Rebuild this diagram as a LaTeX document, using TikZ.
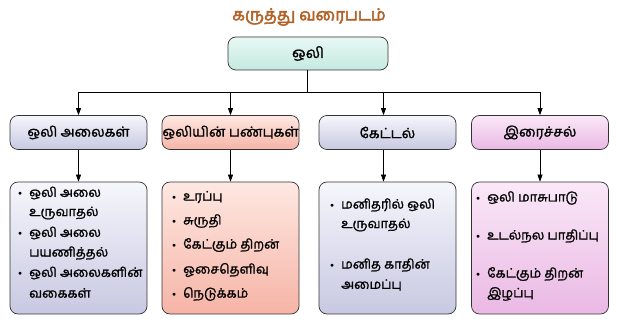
\documentclass[tikz,border=0pt]{standalone}
\usepackage{fontspec}
\newfontfamily\tam[Script=Tamil,FakeBold=1.3]{Hind Madurai}
\newfontfamily\tamt[Script=Tamil,FakeBold=3]{Hind Madurai}
\usetikzlibrary{arrows.meta}
\definecolor{titlebrown}{RGB}{178,98,38}
\definecolor{tealtop}{RGB}{232,248,244}
\definecolor{tealbot}{RGB}{196,234,224}
\definecolor{lavtop}{RGB}{246,246,252}
\definecolor{lavbot}{RGB}{200,200,226}
\definecolor{saltop}{RGB}{254,232,226}
\definecolor{salbot}{RGB}{246,180,166}
\definecolor{pintop}{RGB}{250,232,248}
\definecolor{pinbot}{RGB}{234,184,228}
\newcommand{\bul}{\makebox[11pt][l]{\raisebox{1pt}{\scriptsize$\bullet$}}}
\newcommand{\ind}{\hspace*{11pt}}
\begin{document}
\begin{tikzpicture}[x=1pt,y=-1pt,
  box/.style={draw=black!80, line width=0.7pt, rounded corners=8pt, inner sep=0pt},
  lvtwo/.style={box, minimum width=137pt, minimum height=34pt, font=\tam\fontsize{14}{17}\selectfont},
  lvthree/.style={box, minimum width=137pt, minimum height=132pt},
  lav/.style={top color=lavtop, bottom color=lavbot},
  sal/.style={top color=saltop, bottom color=salbot},
  pin/.style={top color=pintop, bottom color=pinbot},
  item/.style={anchor=west, inner sep=0pt, font=\tam\fontsize{13}{15}\selectfont},
  conn/.style={draw=black, line width=0.7pt},
  arr/.style={conn, -{Triangle[length=7pt,width=5pt]}}
]
\useasboundingbox (0,0) rectangle (625,326);

\node[font=\tamt\fontsize{16.5}{19}\selectfont, text=titlebrown] (title) at (309,17) {கருத்து வரைபடம்};

\node[box, top color=tealtop, bottom color=tealbot, minimum width=160pt, minimum height=33pt, font=\tam\fontsize{15}{18}\selectfont] (top) at (308,53.5) {ஒலி};

\node[lvtwo, lav] (a1) at (78.5,132.5) {ஒலி அலைகள்};
\node[lvtwo, sal] (a2) at (230.5,132.5) {ஒலியின் பண்புகள்};
\node[lvtwo, lav] (a3) at (387.5,132.5) {கேட்டல்};
\node[lvtwo, pin] (a4) at (540,132.5) {இரைச்சல்};

\node[lvthree, lav] (b1) at (78.5,248) {};
\node[lvthree, sal] (b2) at (230.5,248) {};
\node[lvthree, lav] (b3) at (387.5,248) {};
\node[lvthree, pin] (b4) at (540,248) {};

\coordinate (hub) at (307,92);
\draw[conn] (top.south -| hub) -- (hub);
\draw[arr] (hub) -| (a1.north);
\draw[arr] (hub) -| (a2.north);
\draw[arr] ([xshift=-4pt]a3.north |- hub) -- ([xshift=-4pt]a3.north);
\draw[conn] (a1.north |- hub) -- (a4.north |- hub);
\draw[arr] (a4.north |- hub) -- (a4.north);

\draw[arr] (a1.south) -- (b1.north);
\draw[arr] (a2.south) -- (b2.north);
\draw[arr] ([xshift=-4pt]a3.south) -- ([xshift=-4pt]b3.north);
\draw[arr] (a4.south) -- (b4.north);

% box 1 items
\node[item] (i11) at (18,193) {\bul ஒலி அலை};
\node[item] (i12) at (18,213) {\ind உருவாதல்};
\node[item] (i13) at (18,233) {\bul ஒலி அலை};
\node[item] (i14) at (18,253) {\ind பயணித்தல்};
\node[item] (i15) at (18,273) {\bul ஒலி அலைகளின்};
\node[item] (i16) at (18,293) {\ind வகைகள்};

% box 2 items
\node[item] (i21) at (172,197) {\bul உரப்பு};
\node[item] (i22) at (172,221) {\bul சுருதி};
\node[item] (i23) at (172,245) {\bul கேட்கும் திறன்};
\node[item] (i24) at (172,270) {\bul ஓசைதெளிவு};
\node[item] (i25) at (172,294) {\bul நெடுக்கம்};

% box 3 items
\node[item] (i31) at (330,205) {\bul மனிதரில் ஒலி};
\node[item] (i32) at (330,225) {\ind உருவாதல்};
\node[item] (i33) at (330,265) {\bul மனித காதின்};
\node[item] (i34) at (330,285) {\ind அமைப்பு};

% box 4 items
\node[item] (i41) at (476,198) {\bul ஒலி மாசுபாடு};
\node[item] (i42) at (476,236) {\bul உடல்நல பாதிப்பு};
\node[item] (i43) at (476,274) {\bul கேட்கும் திறன்};
\node[item] (i44) at (476,294) {\ind இழப்பு};
\end{tikzpicture}
\end{document}
